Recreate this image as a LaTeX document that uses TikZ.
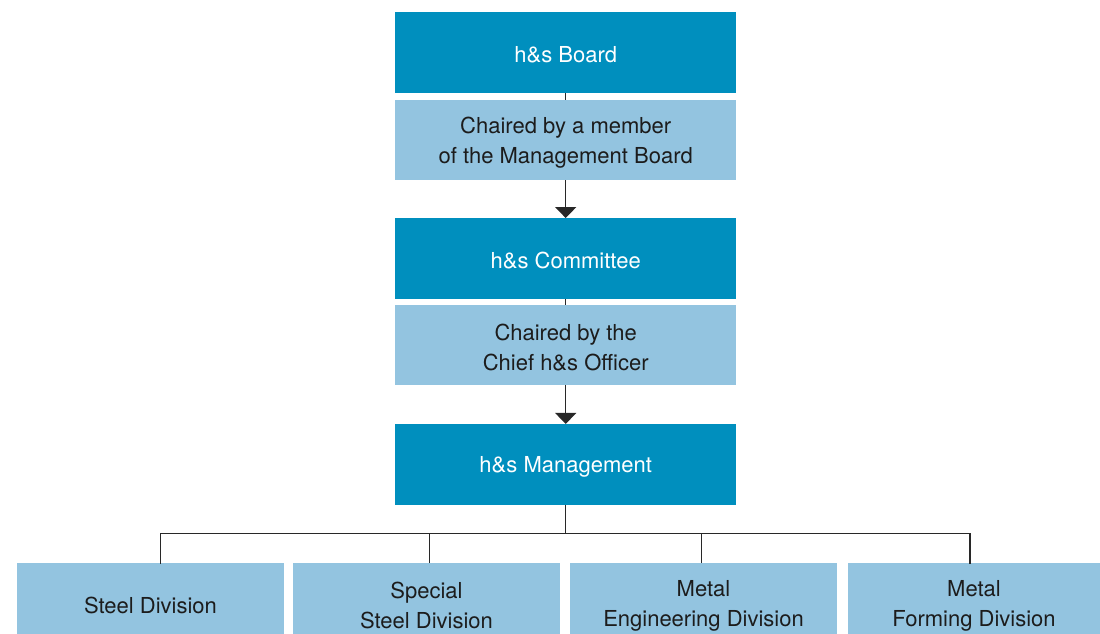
\documentclass[tikz,border=0pt]{standalone}
\usepackage{fontspec}
\setmainfont{TeX Gyre Heros}
\usetikzlibrary{arrows.meta,backgrounds}
\definecolor{darkbox}{RGB}{0,143,190}
\definecolor{lightbox}{RGB}{147,196,224}
\definecolor{darktext}{RGB}{28,28,28}
\definecolor{linecol}{RGB}{40,40,40}
\newcommand{\lnstrut}{\rule[-1pt]{0pt}{22pt}}
\tikzset{
  base/.style={inner sep=0pt, align=center, font=\fontsize{22}{30}\selectfont},
  mainbox/.style={base, fill=darkbox, text=white, minimum width=341.5pt, minimum height=80.5pt},
  notebox/.style={base, fill=lightbox, text=darktext, minimum width=341.5pt, minimum height=80pt},
  divbox/.style={base, fill=lightbox, text=darktext, minimum width=266.5pt, minimum height=80pt},
  conn/.style={draw=linecol, line width=1.3pt},
  arr/.style={conn, -{Triangle[width=21pt,length=11pt]}}
}
\begin{document}
\begin{tikzpicture}[x=1pt,y=-1pt]
\useasboundingbox (0,0) rectangle (1100,633);
\clip (0,0) rectangle (1100,633);
\node[mainbox] (board) at (565.7,52.4) {\lnstrut h\&s Board};
\node[notebox] (chair1) at (565.7,140.4) {\lnstrut Chaired by a member\\\lnstrut of the Management Board};
\node[mainbox] (comm) at (565.7,258.5) {\lnstrut h\&s Committee};
\node[notebox] (chair2) at (565.7,345.3) {\lnstrut Chaired by the\\\lnstrut Chief h\&s Officer};
\node[mainbox] (mgmt) at (565.7,464.4) {\lnstrut h\&s Management};
\node[divbox, minimum width=267pt] (d1) at (150.5,603) {\lnstrut Steel Division};
\node[divbox] (d2) at (426.5,603) {\lnstrut Special\\\lnstrut Steel Division};
\node[divbox] (d3) at (703.5,603) {\lnstrut Metal\\\lnstrut Engineering Division};
\node[divbox, minimum width=253pt] (d4) at (974,603) {\lnstrut Metal\\\lnstrut Forming Division};
\coordinate (bus) at (565.7,533.5);
\coordinate (t1) at (160.7,563);
\coordinate (t2) at (429.3,563);
\coordinate (t3) at (701.6,563);
\coordinate (t4) at (970,563);
\begin{scope}[on background layer]
  \draw[arr] (board.south) -- (comm.north);
  \draw[arr] (comm.south) -- (mgmt.north);
\end{scope}
\draw[conn] (mgmt.south) -- (bus);
\draw[conn, line cap=rect] (t1) |- (bus);
\draw[conn, line cap=rect] (t4) |- (bus);
\draw[conn] (t2) -- (t2 |- bus);
\draw[conn] (t3) -- (t3 |- bus);
\end{tikzpicture}
\end{document}
